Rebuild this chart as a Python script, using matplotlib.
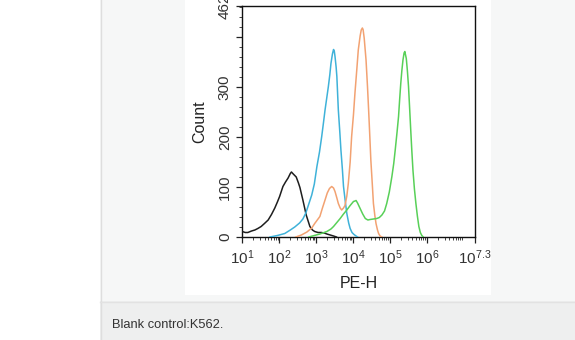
import matplotlib
matplotlib.use("Agg")
import matplotlib.pyplot as plt
from matplotlib.patches import Rectangle
from matplotlib.lines import Line2D
from matplotlib.ticker import LogLocator, FixedLocator, NullFormatter
import numpy as np

plt.rcParams['font.family'] = ['Liberation Sans', 'DejaVu Sans']
plt.rcParams['mathtext.fontset'] = 'custom'
plt.rcParams['mathtext.rm'] = 'Liberation Sans'
plt.rcParams['mathtext.it'] = 'Liberation Sans'

# Histogram traces: x in log10(PE-H), y in event count
black_x = [1.00, 1.08, 1.15, 1.25, 1.34, 1.42, 1.51, 1.60, 1.70, 1.79, 1.88, 1.95, 2.01,
           2.10, 2.17, 2.24, 2.30, 2.33, 2.38, 2.46, 2.52, 2.56, 2.64, 2.73, 2.83, 2.90,
           2.96, 3.05, 3.14, 3.22, 3.29, 3.38, 3.47, 3.55]
black_y = [11, 9, 9, 12, 14, 17, 21, 27, 34, 45, 58, 70, 81, 101, 110, 118, 127, 130, 126,
           120, 108, 99, 74, 44, 21, 14, 11, 9, 9, 8, 6, 4, 2, 0]

blue_x = [1.75, 1.95, 2.15, 2.30, 2.42, 2.55, 2.64, 2.72, 2.80, 2.88, 2.95, 3.02, 3.09,
          3.15, 3.20, 3.24, 3.29, 3.33, 3.37, 3.40, 3.44, 3.47, 3.49, 3.51, 3.54, 3.56,
          3.60, 3.64, 3.67, 3.71, 3.74, 3.79, 3.83, 3.88, 3.92, 3.97, 4.01, 4.06, 4.12]
blue_y = [0, 3, 7, 14, 20, 28, 36, 48, 66, 84, 106, 141, 170, 201, 230, 254, 280, 301, 325,
          347, 366, 375, 372, 361, 340, 321, 254, 210, 174, 135, 101, 70, 47, 28, 17, 9, 6, 3, 0]

orange_x = [2.45, 2.60, 2.75, 2.88, 2.96, 3.04, 3.10, 3.17, 3.24, 3.30, 3.36, 3.42, 3.47,
            3.51, 3.56, 3.60, 3.65, 3.69, 3.74, 3.78, 3.83, 3.87, 3.92, 3.96, 4.01, 4.05,
            4.10, 4.14, 4.19, 4.22, 4.25, 4.27, 4.30, 4.35, 4.39, 4.42, 4.45, 4.48, 4.52,
            4.55, 4.59, 4.62, 4.66, 4.69, 4.73, 4.78]
orange_y = [0, 4, 10, 18, 27, 35, 41, 58, 74, 88, 97, 101, 98, 91, 78, 67, 58, 54, 58, 63,
            82, 107, 150, 201, 245, 288, 335, 374, 402, 414, 418, 415, 398, 354, 300, 254,
            205, 154, 105, 67, 42, 27, 14, 7, 2, 0]

green_x = [2.80, 2.95, 3.10, 3.29, 3.40, 3.47, 3.56, 3.65, 3.74, 3.83, 3.92, 4.01, 4.05,
           4.08, 4.12, 4.19, 4.26, 4.33, 4.40, 4.46, 4.55, 4.64, 4.71, 4.78, 4.85, 4.91,
           4.98, 5.05, 5.10, 5.14, 5.19, 5.23, 5.26, 5.29, 5.32, 5.35, 5.38, 5.40, 5.44,
           5.47, 5.50, 5.53, 5.56, 5.59, 5.62, 5.66, 5.70, 5.74, 5.78, 5.82, 5.86, 5.90]
green_y = [0, 3, 6, 11, 16, 21, 29, 37, 46, 54, 63, 71, 72, 73, 68, 57, 46, 37, 34, 35, 36,
           37, 39, 44, 52, 67, 90, 121, 147, 174, 210, 241, 275, 307, 333, 354, 368, 371,
           357, 332, 301, 258, 214, 172, 134, 96, 67, 42, 21, 9, 3, 0]

x_tick_exps = [1, 2, 3, 4, 5, 6, 7.3]
x_tick_labels = [r'$10^{1}$', r'$10^{2}$', r'$10^{3}$', r'$10^{4}$', r'$10^{5}$',
                 r'$10^{6}$', r'$10^{7.3}$']
y_ticks = [0, 100, 200, 300, 400, 462]
y_tick_labels = ['0', '100', '200', '300', '', '462']
caption = "Blank control:K562."

W, H = 575, 340
fig = plt.figure(figsize=(W / 100, H / 100), dpi=100)
fig.patch.set_facecolor('white')


def frect(x0, y0, x1, y1, color, z=0):
    """Rectangle in pixel coordinates measured from the top-left corner."""
    fig.patches.append(Rectangle((x0 / W, 1 - y1 / H), (x1 - x0) / W, (y1 - y0) / H,
                                 transform=fig.transFigure, facecolor=color,
                                 edgecolor='none', zorder=z))


# page panels
frect(100, 0, 575, 301, '#f6f7f7')
frect(100, 301, 575, 340, '#eeefef')
frect(184.5, 0, 490.5, 295, '#ffffff', z=1)
fig.lines.append(Line2D([100.5 / W, 100.5 / W], [0, 1], transform=fig.transFigure,
                        color='#dedede', lw=1))
fig.lines.append(Line2D([100 / W, 1], [1 - 301.5 / H, 1 - 301.5 / H],
                        transform=fig.transFigure, color='#e2e2e2', lw=1))

ax = fig.add_axes([242.3 / W, 1 - 237 / H, (475 - 242.3) / W, (237 - 6) / H], zorder=2)
ax.set_facecolor('white')

for xs, ys, c in [(black_x, black_y, '#1e1e1e'),
                  (blue_x, blue_y, '#3fb2d9'),
                  (orange_x, orange_y, '#f2a272'),
                  (green_x, green_y, '#58d058')]:
    ax.plot(10 ** np.asarray(xs), ys, color=c, lw=1.1, zorder=3)

ax.set_xscale('log')
ax.set_xlim(10, 10 ** 7.3)
ax.set_ylim(0, 462)

ax.xaxis.set_major_locator(FixedLocator([10 ** e for e in x_tick_exps]))
ax.set_xticklabels(x_tick_labels)
ax.xaxis.set_minor_locator(LogLocator(base=10, subs=np.arange(2, 10), numticks=30))
ax.xaxis.set_minor_formatter(NullFormatter())

ax.set_yticks(y_ticks)
ax.set_yticklabels(y_tick_labels, rotation=90, va='center')
ax.yaxis.set_minor_locator(FixedLocator(np.arange(0, 462, 20)))

ax.tick_params(which='major', direction='out', length=4, width=0.9, color='#222222',
               labelcolor='#333333', pad=3)
ax.tick_params(axis='x', labelsize=11, pad=4)
ax.tick_params(axis='y', labelsize=11, pad=3.5)
ax.tick_params(which='minor', direction='out', length=2, width=0.7, color='#444444')

for s in ax.spines.values():
    s.set_color('#111111')
    s.set_linewidth(1.0)

ax.set_xlabel('PE-H', fontsize=11.5, color='#222222', labelpad=7)
ax.set_ylabel('Count', fontsize=11.5, color='#222222', labelpad=7.5)

fig.text(111.5 / W, 1 - 325.5 / H, caption, fontsize=9.3, color='#333333',
         ha='left', va='center')

fig.savefig('out.png', dpi=100, facecolor=fig.get_facecolor())
